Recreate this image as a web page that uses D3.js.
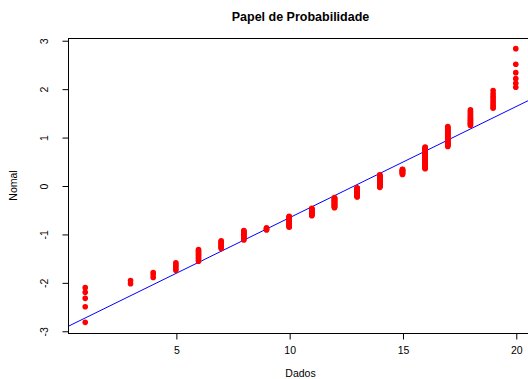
<!DOCTYPE html>
<html>
<head>
<meta charset="utf-8">
<script src="https://cdn.jsdelivr.net/npm/d3@7"></script>
<style>
  body { margin: 0; background: #fff; }
  text { font-family: "Liberation Sans", Arial, sans-serif; }
</style>
</head>
<body>
<div id="chart"></div>
<script>
// observed values (Dados) and how many times each one occurs
const dados = [1, 3, 4, 5, 6, 7, 8, 9, 10, 11, 12, 13, 14, 15, 16, 17, 18, 19, 20];
const contagem = [5, 2, 3, 5, 10, 9, 13, 4, 19, 15, 22, 21, 28, 12, 41, 27, 14, 9, 6];

const xTicks = [5, 10, 15, 20];
const yTicks = [-3, -2, -1, 0, 1, 2, 3];

// reference line: Normal = a + b * Dados
const retaA = -2.965;
const retaB = 0.2296;

const width = 528;
const height = 379;
// the plot region runs a little past the right edge of the picture
const plotLeft = 68, plotRight = 533, plotTop = 38, plotBottom = 333;

// inverse normal cdf (Acklam)
function qnorm(p) {
  const a = [-3.969683028665376e+01, 2.209460984245205e+02, -2.759285104469687e+02, 1.383577518672690e+02, -3.066479806614716e+01, 2.506628277459239e+00];
  const b = [-5.447609879822406e+01, 1.615858368580409e+02, -1.556989798598866e+02, 6.680131188771972e+01, -1.328068155288572e+01];
  const c = [-7.784894002430293e-03, -3.223964580411365e-01, -2.400758277161838e+00, -2.549732539343734e+00, 4.374664141464968e+00, 2.938163982698783e+00];
  const d = [7.784695709041462e-03, 3.224671290700398e-01, 2.445134137142996e+00, 3.754408661907416e+00];
  const pl = 0.02425;
  let q, r;
  if (p < pl) {
    q = Math.sqrt(-2 * Math.log(p));
    return (((((c[0] * q + c[1]) * q + c[2]) * q + c[3]) * q + c[4]) * q + c[5]) / ((((d[0] * q + d[1]) * q + d[2]) * q + d[3]) * q + 1);
  }
  if (p > 1 - pl) {
    q = Math.sqrt(-2 * Math.log(1 - p));
    return -(((((c[0] * q + c[1]) * q + c[2]) * q + c[3]) * q + c[4]) * q + c[5]) / ((((d[0] * q + d[1]) * q + d[2]) * q + d[3]) * q + 1);
  }
  q = p - 0.5;
  r = q * q;
  return (((((a[0] * r + a[1]) * r + a[2]) * r + a[3]) * r + a[4]) * r + a[5]) * q / (((((b[0] * r + b[1]) * r + b[2]) * r + b[3]) * r + b[4]) * r + 1);
}

// sorted sample -> normal scores
const amostra = [];
dados.forEach((v, i) => {
  for (let k = 0; k < contagem[i]; k++) amostra.push(v);
});
const n = amostra.length;
const pontos = amostra.map((v, i) => ({ x: v, y: qnorm((i + 1 - 0.375) / (n + 0.25)) }));

const svg = d3.select('#chart').append('svg')
  .attr('width', width)
  .attr('height', height);

const x = d3.scaleLinear().domain([0.24, 20.76]).range([plotLeft, plotRight]);
const y = d3.scaleLinear().domain([-3.046, 3.046]).range([plotBottom, plotTop]);

svg.append('clipPath').attr('id', 'clip')
  .append('rect')
    .attr('x', plotLeft).attr('y', plotTop)
    .attr('width', plotRight - plotLeft).attr('height', plotBottom - plotTop);

// reference line
svg.append('line')
  .attr('clip-path', 'url(#clip)')
  .attr('x1', x(0.24)).attr('y1', y(retaA + retaB * 0.24))
  .attr('x2', x(20.76)).attr('y2', y(retaA + retaB * 20.76))
  .style('stroke', '#0000ff')
  .style('stroke-width', 1);

// points
svg.append('g')
  .selectAll('circle')
  .data(pontos)
  .enter().append('circle')
    .attr('cx', d => x(d.x))
    .attr('cy', d => y(d.y))
    .attr('r', 2.8)
    .style('fill', '#ff0000');

// box
svg.append('rect')
  .attr('x', plotLeft + 0.5).attr('y', plotTop + 0.5)
  .attr('width', plotRight - plotLeft).attr('height', plotBottom - plotTop)
  .style('fill', 'none')
  .style('stroke', '#000')
  .style('stroke-width', 1);

// x axis
const xAxis = svg.append('g')
  .attr('transform', `translate(0.5,${plotBottom + 0.5})`)
  .call(d3.axisBottom(x).tickValues(xTicks).tickSize(6).tickPadding(7));
xAxis.select('.domain').remove();
xAxis.selectAll('text').style('font-size', '10.5px').style('fill', '#000');

// y axis, labels rotated like R (plain hyphen for minus)
const yAxis = svg.append('g')
  .attr('transform', `translate(${plotLeft + 0.5},0.5)`)
  .call(d3.axisLeft(y).tickValues(yTicks).tickSize(6).tickFormat(d => String(d)));
yAxis.select('.domain').remove();
yAxis.selectAll('text')
  .attr('x', null).attr('dy', null)
  .attr('transform', 'translate(-25,0) rotate(-90)')
  .attr('text-anchor', 'middle')
  .attr('dominant-baseline', 'central')
  .style('font-size', '10.5px')
  .style('fill', '#000');

// labels
svg.append('text')
  .attr('x', (plotLeft + plotRight) / 2)
  .attr('y', 21)
  .attr('text-anchor', 'middle')
  .style('font-size', '12.5px')
  .style('font-weight', 'bold')
  .text('Papel de Probabilidade');

svg.append('text')
  .attr('x', (plotLeft + plotRight) / 2)
  .attr('y', 377)
  .attr('text-anchor', 'middle')
  .style('font-size', '10.5px')
  .text('Dados');

svg.append('text')
  .attr('transform', `translate(17,${(plotTop + plotBottom) / 2}) rotate(-90)`)
  .attr('text-anchor', 'middle')
  .style('font-size', '10.5px')
  .text('Nomal');
</script>
</body>
</html>
